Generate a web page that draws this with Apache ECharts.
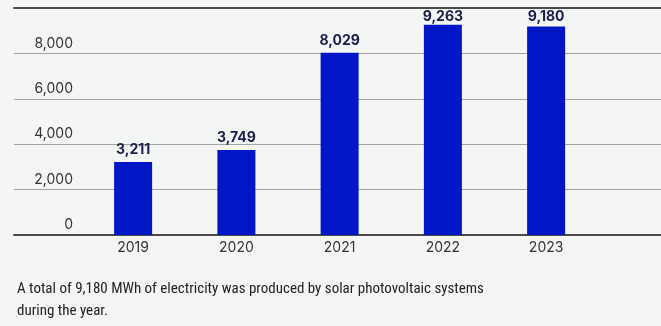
<!DOCTYPE html>
<html>
<head>
<meta charset="utf-8">
<script src="https://cdn.jsdelivr.net/npm/echarts@6/dist/echarts.min.js"></script>
<style>
  html, body { margin: 0; padding: 0; background: #f4f6f6; }
  #chart { width: 661px; height: 326px; }
</style>
</head>
<body>
<div id="chart"></div>
<script>
// Solar photovoltaic electricity output, MWh per year
const years = ['2019', '2020', '2021', '2022', '2023'];
const outputMWh = [3211, 3749, 8029, 9263, 9180];
const yTicks = [0, 2000, 4000, 6000, 8000, 10000];
const caption = 'A total of 9,180 MWh of electricity was produced by solar photovoltaic systems\nduring the year.';

const yMin = yTicks[0];
const yMax = yTicks[yTicks.length - 1];
const yStep = yTicks[1] - yTicks[0];

const plotTop = 8;
const plotHeight = 227;
const pxPerUnit = plotHeight / (yMax - yMin);

const fmt = v => v.toLocaleString('en-US');
const uiFont = 'Inter, "Open Sans", sans-serif';

// value labels sit 5px above each bar, squeezed closer when the top rule is near
const barData = outputMWh.map(v => {
  const room = (yMax - v) * pxPerUnit;
  const gap = Math.max(0, Math.min(5, room - 16));
  return { value: v, label: { distance: gap } };
});

const chart = echarts.init(document.getElementById('chart'), null, { renderer: 'canvas' });

chart.setOption({
  backgroundColor: '#f4f6f6',
  animation: false,
  title: {
    text: caption,
    left: 12,
    top: 273,
    textStyle: {
      fontFamily: '"Liberation Sans Narrow", "Roboto Condensed", "Liberation Sans", sans-serif',
      fontSize: 15,
      fontWeight: 'normal',
      color: '#222222',
      lineHeight: 22
    }
  },
  grid: [
    // full-width grid carrying the gridlines and value labels
    { left: 14, right: 0, top: plotTop, height: plotHeight, outerBoundsMode: 'none', containLabel: false },
    // narrower grid carrying the bars
    { left: 81.5, width: 516.25, top: plotTop, height: plotHeight, outerBoundsMode: 'none', containLabel: false }
  ],
  xAxis: [
    {
      gridIndex: 0, type: 'category', data: [], position: 'bottom',
      axisLine: { show: true, lineStyle: { color: '#4a4a4a', width: 2 } },
      axisTick: { show: false }, axisLabel: { show: false }, splitLine: { show: false }
    },
    {
      gridIndex: 0, type: 'category', data: [], position: 'top',
      axisLine: { show: true, lineStyle: { color: '#4a4a4a', width: 2 } },
      axisTick: { show: false }, axisLabel: { show: false }, splitLine: { show: false }
    },
    {
      gridIndex: 1, type: 'category', data: years, position: 'bottom',
      axisLine: { show: false }, axisTick: { show: false }, splitLine: { show: false },
      axisLabel: {
        margin: 6,
        color: '#333333',
        fontFamily: uiFont,
        fontSize: 14
      }
    }
  ],
  yAxis: [
    {
      gridIndex: 0, type: 'value', min: yMin, max: yMax, interval: yStep,
      axisLine: { show: false }, axisTick: { show: false },
      splitLine: { show: true, lineStyle: { color: '#a3a3a3', width: 1 } },
      axisLabel: {
        inside: true,
        margin: 59,
        align: 'right',
        verticalAlign: 'bottom',
        padding: [0, 0, 3, 0],
        color: '#333333',
        fontFamily: uiFont,
        fontSize: 14,
        formatter: v => (v === yMax ? '' : fmt(v))
      }
    },
    {
      gridIndex: 1, type: 'value', min: yMin, max: yMax, interval: yStep,
      show: false, splitLine: { show: false }
    }
  ],
  series: [
    {
      type: 'bar',
      xAxisIndex: 2,
      yAxisIndex: 1,
      data: barData,
      barWidth: 38,
      itemStyle: { color: '#0016c7' },
      label: {
        show: true,
        position: 'top',
        distance: 5,
        formatter: p => fmt(p.value),
        color: '#1b1f4b',
        fontFamily: uiFont,
        fontWeight: 'bold',
        fontSize: 14
      }
    }
  ]
});
</script>
</body>
</html>
